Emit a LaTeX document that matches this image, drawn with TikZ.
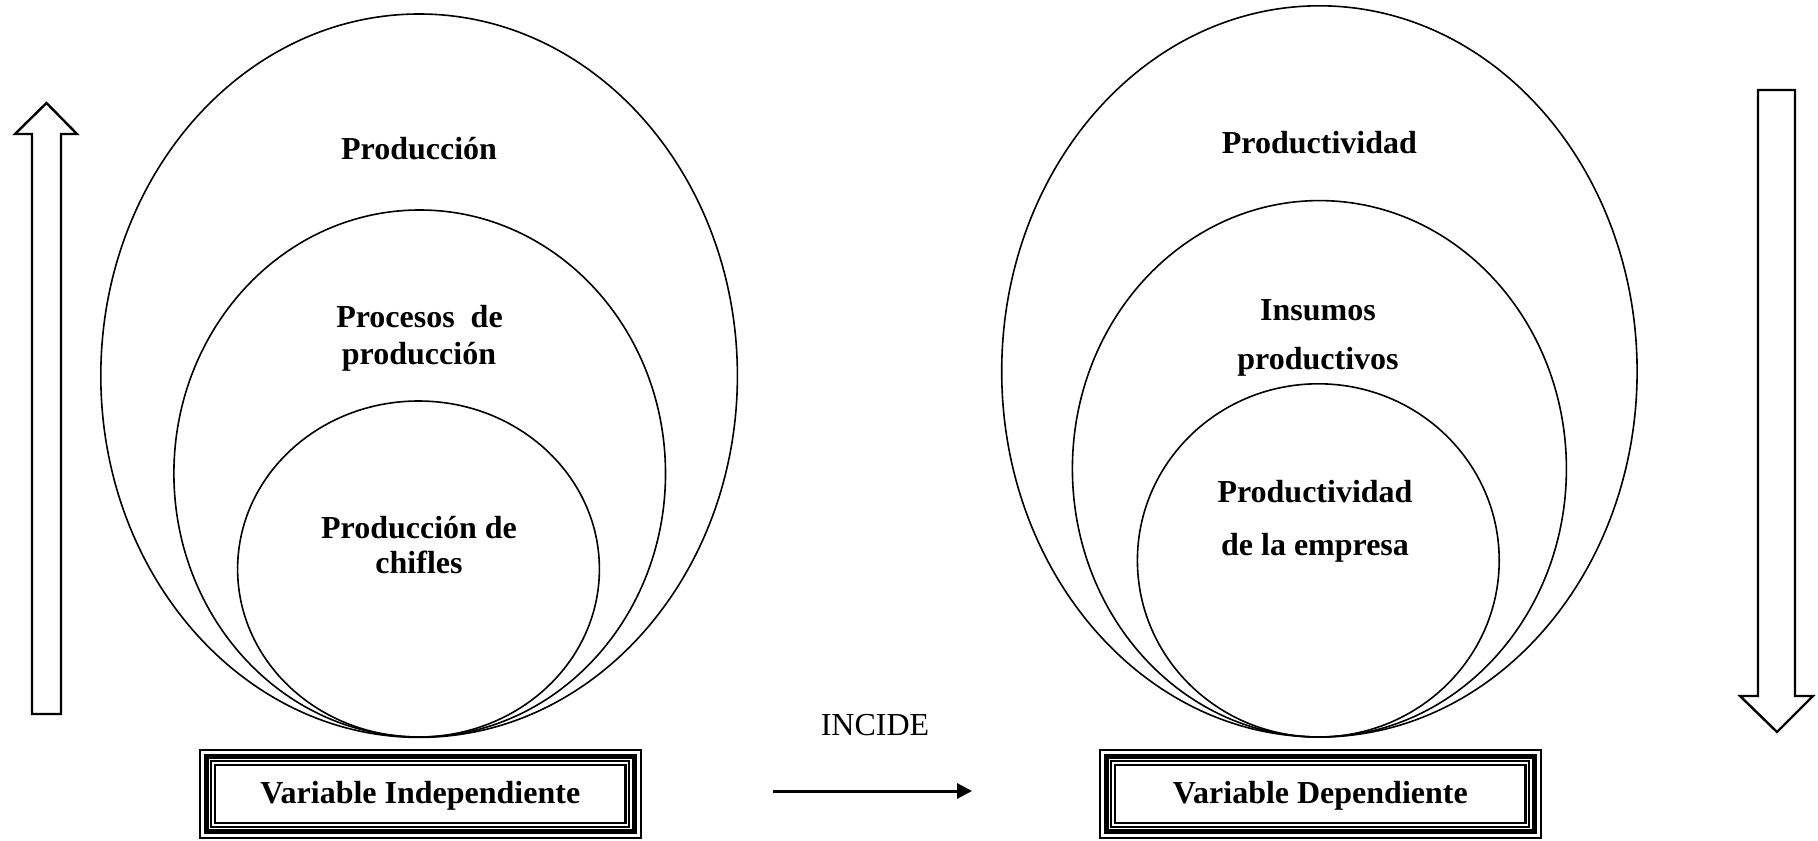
\documentclass[tikz,border=0pt]{standalone}
\usepackage{fontspec}
\setmainfont{Liberation Serif}
\usetikzlibrary{arrows.meta}
\begin{document}
\begin{tikzpicture}[x=0.5pt,y=-0.5pt,
  ring/.style={draw,line width=0.8pt},
  lbl/.style={font=\bfseries\fontsize{16}{19}\selectfont,anchor=base,inner sep=0pt},
  varbox/.style={minimum width=220.35pt,minimum height=44pt,inner sep=0pt,
    text height=11pt,text depth=1.5pt,
    font=\bfseries\fontsize{16}{19}\selectfont},
  hollowarrow/.style={draw,line width=1.2pt,line join=miter,fill=white}]
\useasboundingbox (0,0) rectangle (1818,840);

% nested circles, independent variable
\draw[ring] (419.1,375.7) ellipse [x radius=318.3,y radius=361.7];
\draw[ring] (419.7,473.5) ellipse [x radius=245.8,y radius=263.5];
\draw[ring] (418.5,569) ellipse [x radius=180.9,y radius=168];

% nested circles, dependent variable
\draw[ring] (1319.4,371.4) ellipse [x radius=317.7,y radius=365.6];
\draw[ring] (1319.4,468.8) ellipse [x radius=247,y radius=268.2];
\draw[ring] (1318.3,560.4) ellipse [x radius=180.9,y radius=176.6];

% labels inside the circles
\node[lbl] (l1)  at (419,159.5) {Producción};
\node[lbl] (l2a) at (419.5,327) {Procesos\ \ de};
\node[lbl] (l2b) at (419,364) {producción};
\node[lbl] (l3a) at (419,538) {Producción de};
\node[lbl] (l3b) at (419,573) {chifles};

\node[lbl] (r1)  at (1319.4,153.6) {Productividad};
\node[lbl] (r2a) at (1318,320.6) {Insumos};
\node[lbl] (r2b) at (1318,369) {productivos};
\node[lbl] (r3a) at (1315,502.6) {Productividad};
\node[lbl] (r3b) at (1315,555) {de la empresa};

% variable boxes
\node[varbox] (vi) at (420.35,794) {Variable Independiente};
\node[varbox] (vd) at (1320.35,794) {Variable Dependiente};
\foreach \b in {vi,vd}{
  \draw[line width=1pt] (\b.north west) rectangle (\b.south east);
  \draw[line width=2.5pt] ([shift={(6.5,6.5)}]\b.north west) rectangle ([shift={(-6.5,-6.5)}]\b.south east);
  \draw[line width=1pt] ([shift={(11.7,11.7)}]\b.north west) rectangle ([shift={(-11.7,-11.7)}]\b.south east);
  \draw[line width=1.25pt] ([shift={(15.5,15.5)}]\b.north west) rectangle ([shift={(-15.5,-15.5)}]\b.south east);
}

% relation arrow
\node[font=\fontsize{16}{19}\selectfont,anchor=base,inner sep=0pt] (inc) at (875,735) {INCIDE};
\coordinate (as) at (773,791);
\coordinate (ae) at (972,791);
\draw[line width=1.5pt,-{Triangle[length=7.5pt,width=7.5pt]}] (as) -- (ae);

% hollow arrow up (left)
\draw[hollowarrow] (32,714) -- (32,134) -- (15,134) -- (46.5,103) -- (77,134) -- (61,134) -- (61,714) -- cycle;

% hollow arrow down (right)
\draw[hollowarrow] (1758,90) -- (1795,90) -- (1795,696) -- (1813,696) -- (1777,732) -- (1740,696) -- (1758,696) -- cycle;
\end{tikzpicture}
\end{document}
